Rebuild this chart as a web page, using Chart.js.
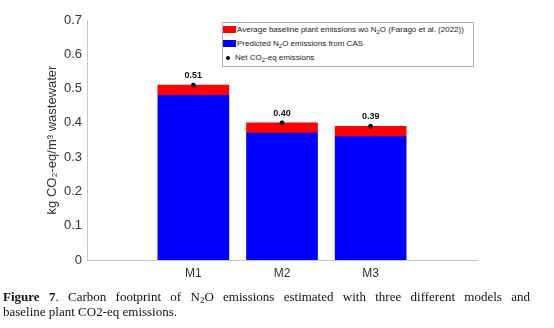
<!DOCTYPE html>
<html>
<head>
<meta charset="utf-8">
<script src="https://cdn.jsdelivr.net/npm/chart.js@4.4.1/dist/chart.umd.min.js"></script>
<style>
  body { margin: 0; background: #fff; }
  #wrap { position: relative; width: 554px; height: 328px; }
  #legend {
    position: absolute; left: 222px; top: 22px; width: 250px; height: 43px;
    border: 1px solid #b0b0b0; background: #fff;
    font: 8px Arial, "Liberation Sans", sans-serif; color: #222;
  }
  #legend .row { position: absolute; left: 0; height: 12px; line-height: 12px; white-space: nowrap; }
  #legend .patch { display: inline-block; width: 13px; height: 7px; vertical-align: -1px; margin-right: 1px; }
  #legend .dot { display: inline-block; width: 4px; height: 4px; border-radius: 50%; background: #000; margin: 0 5px 0 3px; vertical-align: 0; }
  #legend sub { font-size: 6px; vertical-align: -2px; line-height: 0; }
  #caption {
    position: absolute; left: 3px; top: 289px; width: 527px;
    font: 13px "Liberation Serif", "Times New Roman", serif; color: #111;
    line-height: 15px;
  }
  #caption .l1 { text-align: justify; text-align-last: justify; }
  #caption sub { font-size: 9px; vertical-align: -2px; line-height: 0; }
</style>
</head>
<body>
<div id="wrap">
  <canvas id="chart" width="554" height="328"></canvas>
  <div id="legend"></div>
  <div id="caption"><div class="l1"><b>Figure 7</b>. Carbon footprint of N<sub>2</sub>O emissions estimated with three different models and</div><div>baseline plant CO2-eq emissions.</div></div>
</div>
<script>
const categories = ['M1', 'M2', 'M3'];
const predictedN2O = [0.48, 0.37, 0.36];
const baselineWoN2O = [0.03, 0.03, 0.03];
const netCO2eq = [0.51, 0.40, 0.39];
const yTicks = [0, 0.1, 0.2, 0.3, 0.4, 0.5, 0.6, 0.7];

const legendItems = [
    { type: 'patch', color: '#ff0000', html: 'Average baseline plant emissions wo N<sub>2</sub>O (Faragó et al. (2022))' },
    { type: 'patch', color: '#0000ff', html: 'Predicted N<sub>2</sub>O emissions from CAS' },
    { type: 'dot', color: '#000', html: 'Net CO<sub>2</sub>-eq emissions' }
];

const legendEl = document.getElementById('legend');
legendEl.innerHTML = legendItems.map((it, i) => `
    <div class="row" style="top:${1 + i * 14}px">${it.type === 'patch'
        ? `<span class="patch" style="background:${it.color}"></span>`
        : `<span class="dot"></span>`}${it.html}</div>
`).join('');

// value labels above the net dots
const valueLabels = {
    id: 'valueLabels',
    afterDatasetsDraw(chart) {
        const meta = chart.getDatasetMeta(2);
        const c = chart.ctx;
        c.save();
        c.font = 'bold 9px Arial, "Liberation Sans", sans-serif';
        c.fillStyle = '#111';
        c.textAlign = 'center';
        c.textBaseline = 'bottom';
        meta.data.forEach((pt, i) => {
            c.fillText(netCO2eq[i].toFixed(2), pt.x, pt.y - 5);
        });
        c.restore();
    }
};

const xs = categories.map((c, i) => i + 1);

new Chart(document.getElementById('chart'), {
    data: {
        datasets: [
            {
                type: 'bar',
                label: 'Predicted N2O emissions from CAS',
                data: xs.map((x, i) => ({ x: x, y: predictedN2O[i] })),
                backgroundColor: '#0000ff',
                barThickness: 71,
                stack: 's',
                order: 2
            },
            {
                type: 'bar',
                label: 'Average baseline plant emissions wo N2O',
                data: xs.map((x, i) => ({ x: x, y: baselineWoN2O[i] })),
                backgroundColor: '#ff0000',
                barThickness: 71,
                stack: 's',
                order: 2
            },
            {
                type: 'scatter',
                label: 'Net CO2-eq emissions',
                data: xs.map((x, i) => ({ x: x, y: netCO2eq[i] })),
                backgroundColor: '#000',
                borderColor: '#000',
                pointRadius: 2,
                order: 1
            }
        ]
    },
    options: {
        responsive: false,
        animation: false,
        layout: { padding: { top: 20, right: 77, left: 45, bottom: 0 } },
        plugins: { legend: { display: false }, tooltip: { enabled: false } },
        scales: {
            x: {
                type: 'linear',
                stacked: true,
                offset: false,
                min: -0.2,
                max: 4.2,
                grid: { display: false, drawTicks: false, offset: false },
                border: { color: '#c8c8c8' },
                afterBuildTicks: s => { s.ticks = xs.map(v => ({ value: v })); },
                afterFit: s => { s.height = 68; },
                ticks: {
                    padding: 6,
                    color: '#333',
                    font: { family: 'Arial, "Liberation Sans", sans-serif', size: 12 },
                    callback: v => categories[v - 1]
                }
            },
            y: {
                stacked: true,
                min: 0,
                max: 0.7,
                grid: { display: false, drawTicks: false },
                border: { color: '#c8c8c8' },
                afterBuildTicks: s => { s.ticks = yTicks.map(v => ({ value: v })); },
                afterFit: s => { s.width = 42; },
                ticks: {
                    padding: 5,
                    color: '#333',
                    font: { family: 'Arial, "Liberation Sans", sans-serif', size: 13 },
                    callback: v => String(Math.round(v * 10) / 10)
                },
                title: {
                    display: true,
                    text: 'kg CO₂-eq/m³ wastewater',
                    color: '#333',
                    padding: { top: 0, bottom: 0 },
                    font: { family: 'Arial, "Liberation Sans", sans-serif', size: 13 }
                }
            }
        }
    },
    plugins: [valueLabels]
});
</script>
</body>
</html>
